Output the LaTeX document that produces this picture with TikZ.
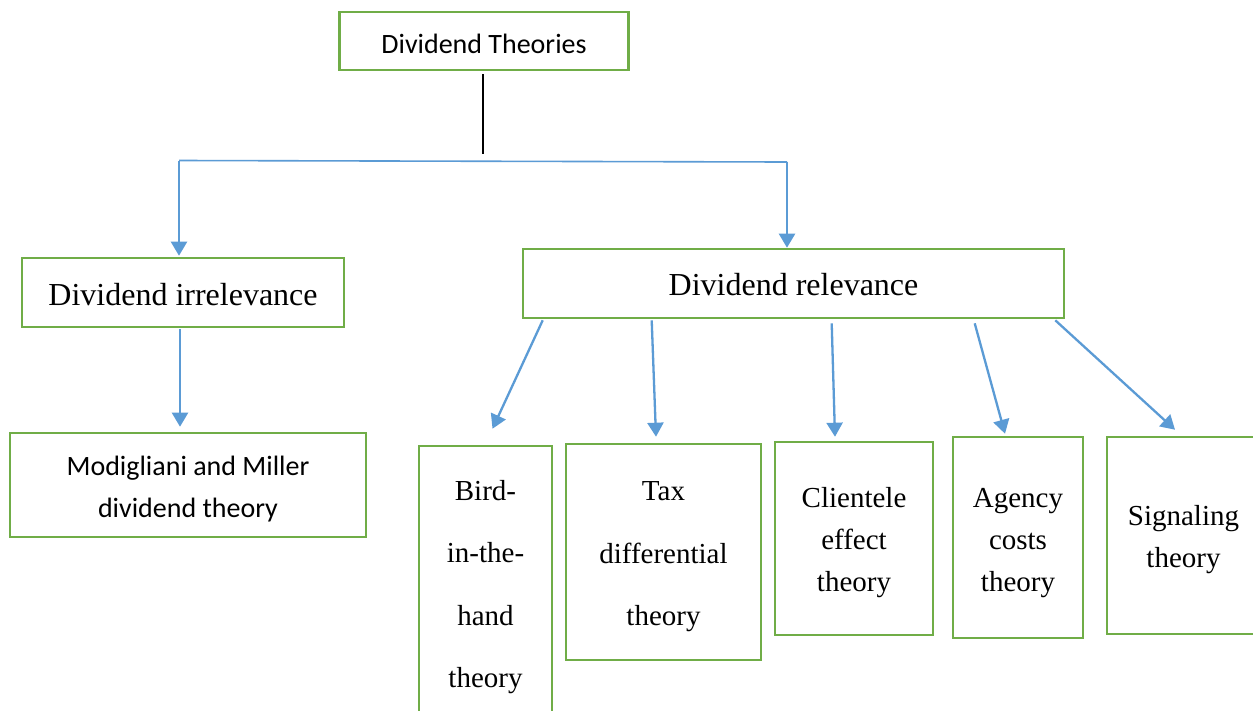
\documentclass[tikz,border=0pt]{standalone}
\usepackage{fontspec}
\setmainfont{Liberation Serif}
\newfontfamily\calib{Carlito}
\usetikzlibrary{arrows.meta,calc}
\definecolor{boxgreen}{HTML}{70AD47}
\definecolor{arrblue}{HTML}{5B9BD5}
\tikzset{
  gbox/.style={draw=boxgreen, line width=2.6pt, inner sep=0pt, fill=white},
  txt/.style={inner sep=0pt, align=center},
  sansbig/.style={txt, font=\calib\fontsize{28}{42}\selectfont},
  serifbig/.style={txt, font=\fontsize{32}{38}\selectfont},
  serifwide/.style={txt, font=\fontsize{29}{62.5}\selectfont},
  serifnarrow/.style={txt, font=\fontsize{29}{42}\selectfont},
  arr/.style={draw=arrblue, line width=2.3pt, -{Triangle[length=14pt,width=16pt]}},
  bline/.style={draw=arrblue, line width=1.6pt},
  kline/.style={draw=black, line width=1.3pt}
}
\begin{document}
\begin{tikzpicture}[x=1pt,y=-1pt]
\useasboundingbox (0,0) rectangle (1253,710);
\clip (0,0) rectangle (1253,710);
\fill[white] (0,0) rectangle (1253,710);

\node[gbox, minimum width=289pt, minimum height=58pt] (top) at (484,41) {};
\node[gbox, minimum width=322pt, minimum height=69pt] (irr) at (183,292.5) {};
\node[gbox, minimum width=541pt, minimum height=69pt] (rel) at (793.5,283.5) {};
\node[gbox, minimum width=356pt, minimum height=104pt] (mm) at (188,485) {};
\node[gbox, minimum width=133pt, minimum height=276pt] (bird) at (485.5,584) {};
\node[gbox, minimum width=195pt, minimum height=216pt] (tax) at (663.5,552) {};
\node[gbox, minimum width=158pt, minimum height=193pt] (cli) at (854,538.5) {};
\node[gbox, minimum width=130pt, minimum height=201pt] (agc) at (1018,537.5) {};
\node[gbox, minimum width=153pt, minimum height=197pt] (sig) at (1183.5,535.5) {};

\node[sansbig] (topt) at ([yshift=-3pt]top.center) {Dividend Theories};
\node[serifbig] (irrt) at ([yshift=-2pt]irr.center) {Dividend irrelevance};
\node[serifbig] (relt) at ([yshift=-1pt]rel.center) {Dividend relevance};
\node[sansbig] (mmt) at ([yshift=-4pt]mm.center) {Modigliani and Miller\\dividend theory};
\node[serifwide] (birdt) at ([yshift=-3pt]bird.center) {Bird-\\in-the-\\hand\\theory};
\node[serifwide] (taxt) at ([yshift=-5pt]tax.center) {Tax\\differential\\theory};
\node[serifnarrow] (clit) at ([yshift=-4pt]cli.center) {Clientele\\effect\\theory};
\node[serifnarrow] (agct) at ([yshift=-6pt]agc.center) {Agency\\costs\\theory};
\node[serifnarrow] (sigt) at ([yshift=-4.5pt]sig.center) {Signaling\\theory};

\coordinate (jt) at (483,154);
\coordinate (jl) at (179,160.5);
\coordinate (jr) at (787,162);

\draw[kline] ([yshift=-3pt]top.south -| jt) -- (jt);
\draw[bline] (jl) -- (jr);
\draw[arr] (jl) -- ([xshift=-4pt,yshift=1pt]irr.north);
\draw[arr] (jr) -- ([xshift=-6.5pt]rel.north);
\draw[arr] ([xshift=-3pt,yshift=-1pt]irr.south) -- ([xshift=-8pt,yshift=5pt]mm.north);

\draw[arr] ([xshift=21pt,yshift=-1pt]rel.south west) -- ([xshift=7pt,yshift=16pt]bird.north);
\draw[arr] ([xshift=130pt,yshift=-1pt]rel.south west) -- ([xshift=-7.5pt,yshift=6pt]tax.north);
\draw[arr] ([xshift=310pt,yshift=-4pt]rel.south west) -- ([xshift=-19pt,yshift=4pt]cli.north);
\draw[arr] ([xshift=453pt,yshift=-4pt]rel.south west) -- ([xshift=-13pt,yshift=2pt]agc.north);
\draw[arr] ([xshift=-10pt,yshift=-1pt]rel.south east) -- ([xshift=-8.5pt,yshift=6pt]sig.north);
\end{tikzpicture}
\end{document}
